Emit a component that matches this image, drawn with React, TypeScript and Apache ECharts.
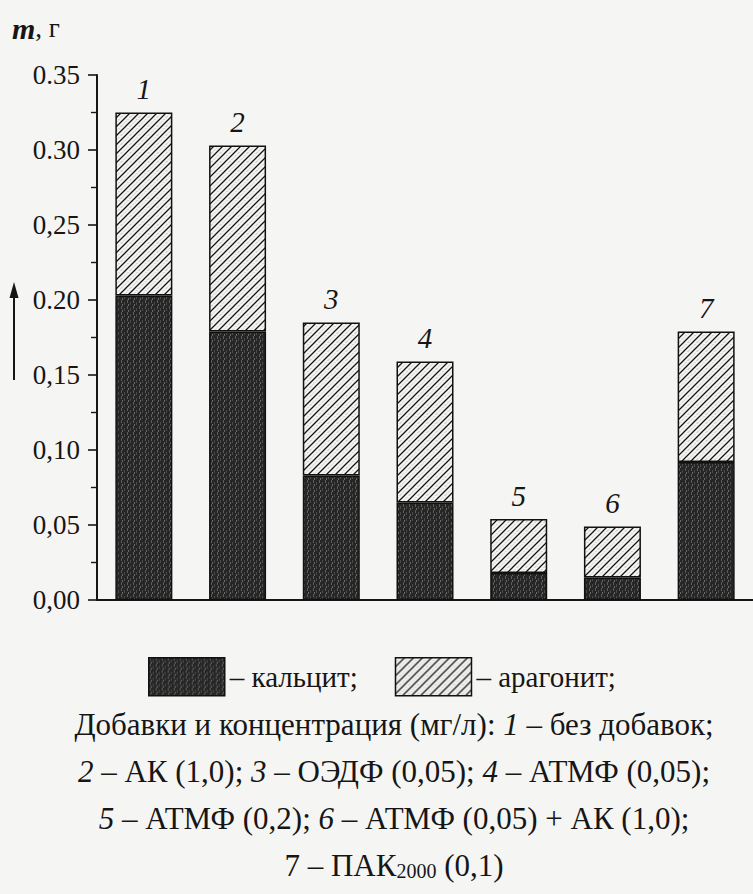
import React, { useEffect, useRef } from "react";
import * as echarts from "echarts";

const categories = ["1", "2", "3", "4", "5", "6", "7"];
const calcite = [0.203, 0.179, 0.083, 0.065, 0.018, 0.015, 0.092];
const totals = [0.325, 0.303, 0.185, 0.159, 0.054, 0.049, 0.179];
const aragonite = totals.map((t, i) => +(t - calcite[i]).toFixed(3));
const yTickLabels = ["0,00", "0,05", "0,10", "0,15", "0.20", "0,25", "0.30", "0.35"];
const seriesNames = ["кальцит", "арагонит"];
const captionLines = [
  "Добавки и концентрация (мг/л): {i|1} – без добавок;",
  "{i|2} – АК (1,0); {i|3} – ОЭДФ (0,05); {i|4} – АТМФ (0,05);",
  "{i|5} – АТМФ (0,2); {i|6} – АТМФ (0,05) + АК (1,0);",
  "7 – ПАК{sub|2000} (0,1)",
];

const SERIF = "Liberation Serif";
const INK = "#161616";

const hatchSvg =
  "data:image/svg+xml;utf8," +
  encodeURIComponent(
    `<svg xmlns='http://www.w3.org/2000/svg' width='9' height='9'>` +
      `<rect width='9' height='9' fill='#f4f4f2'/>` +
      `<path d='M0,4.5 L4.5,0 M4.5,9 L9,4.5' stroke='#8a8a8a' stroke-width='0.8' stroke-dasharray='1,1.5'/>` +
      `<path d='M-1,10 L10,-1 M-1,1 L1,-1 M8,10 L10,8' stroke='#151515' stroke-width='1.3'/>` +
      `</svg>`
  );
const darkSvg =
  "data:image/svg+xml;utf8," +
  encodeURIComponent(
    `<svg xmlns='http://www.w3.org/2000/svg' width='6' height='6'>` +
      `<rect width='6' height='6' fill='#262626'/>` +
      `<rect x='1' y='0' width='1' height='3' fill='#5c5c5c'/>` +
      `<rect x='4' y='2' width='1' height='3' fill='#4a4a4a'/>` +
      `<rect x='2' y='4' width='1' height='2' fill='#6a6a6a'/>` +
      `</svg>`
  );

export default function App() {
  const ref = useRef<HTMLDivElement>(null);
  useEffect(() => {
    if (!ref.current) return;
    const chart = echarts.init(ref.current, null, { renderer: "svg" });
    const darkPattern: any = { image: darkSvg, repeat: "repeat", imageWidth: 6, imageHeight: 6 };
    const hatchPattern: any = { image: hatchSvg, repeat: "repeat", imageWidth: 9, imageHeight: 9 };
    chart.setOption({
      animation: false,
      backgroundColor: "#f5f5f3",
      textStyle: { fontFamily: SERIF },
      grid: { left: 97, top: 75, width: 665, height: 525 },
      legend: {
        left: 143,
        top: 652,
        itemWidth: 76,
        itemHeight: 38,
        itemGap: 37,
        icon: "rect",
        data: seriesNames,
        formatter: (n: string) => "– " + n + ";",
        itemStyle: { borderColor: "#111", borderWidth: 1.5 },
        textStyle: { fontFamily: SERIF, fontSize: 29, color: INK },
        selectedMode: false,
      },
      xAxis: {
        type: "category",
        data: categories,
        axisLine: { show: true, lineStyle: { color: INK, width: 2 } },
        axisTick: { show: false },
        axisLabel: { show: false },
      },
      yAxis: {
        type: "value",
        min: 0,
        max: 0.35,
        interval: 0.05,
        splitLine: { show: false },
        axisLine: { show: true, lineStyle: { color: INK, width: 2 } },
        axisTick: { show: true, length: 9, lineStyle: { color: INK, width: 1.6 } },
        minorTick: { show: true, splitNumber: 2, length: 6, lineStyle: { color: INK, width: 1.4 } },
        axisLabel: {
          formatter: (_v: number, i: number) => yTickLabels[i],
          fontFamily: SERIF,
          fontSize: 27,
          color: INK,
          margin: 17,
        },
      },
      series: [
        {
          name: seriesNames[0],
          type: "bar",
          stack: "m",
          barWidth: 57,
          data: calcite,
          itemStyle: { color: darkPattern, borderColor: "#111", borderWidth: 1.5 },
        },
        {
          name: seriesNames[1],
          type: "bar",
          stack: "m",
          barWidth: 57,
          data: aragonite,
          itemStyle: { color: hatchPattern, borderColor: "#111", borderWidth: 1.5 },
          label: {
            show: true,
            position: "top",
            distance: 9,
            formatter: (p: any) => categories[p.dataIndex],
            fontFamily: SERIF,
            fontStyle: "italic",
            fontSize: 29,
            color: INK,
          },
        },
      ],
      graphic: [
        {
          type: "text",
          left: 12,
          top: 13,
          style: {
            text: "{m|m}{g|, г}",
            fontFamily: SERIF,
            fontSize: 27,
            fill: INK,
            rich: {
              m: { fontFamily: SERIF, fontSize: 30, fontStyle: "italic", fontWeight: "bold", fill: INK },
              g: { fontFamily: SERIF, fontSize: 27, fill: INK },
            },
          },
        },
        {
          type: "line",
          shape: { x1: 14, y1: 292, x2: 14, y2: 380 },
          style: { stroke: INK, lineWidth: 2 },
        },
        {
          type: "polygon",
          shape: { points: [[14, 282], [9.5, 298], [18.5, 298]] },
          style: { fill: INK },
        },
        ...captionLines.map((t, k) => ({
          type: "text",
          x: 394,
          y: 724 + k * 47,
          style: {
            text: t,
            x: 0,
            y: 0,
            align: "center",
            verticalAlign: "middle",
            textAlign: "center",
            textVerticalAlign: "middle",
            fontFamily: SERIF,
            fontSize: 31,
            fill: INK,
            rich: {
              i: { fontFamily: SERIF, fontSize: 31, fontStyle: "italic", fill: INK },
              sub: { fontFamily: SERIF, fontSize: 20, fill: INK, verticalAlign: "bottom", padding: [12, 0, 0, 0] },
            },
          },
        })),
      ],
    });
    return () => chart.dispose();
  }, []);
  return (
    <div
      ref={ref}
      style={{ position: "absolute", left: 0, top: 0, width: 753, height: 894 }}
    />
  );
}
